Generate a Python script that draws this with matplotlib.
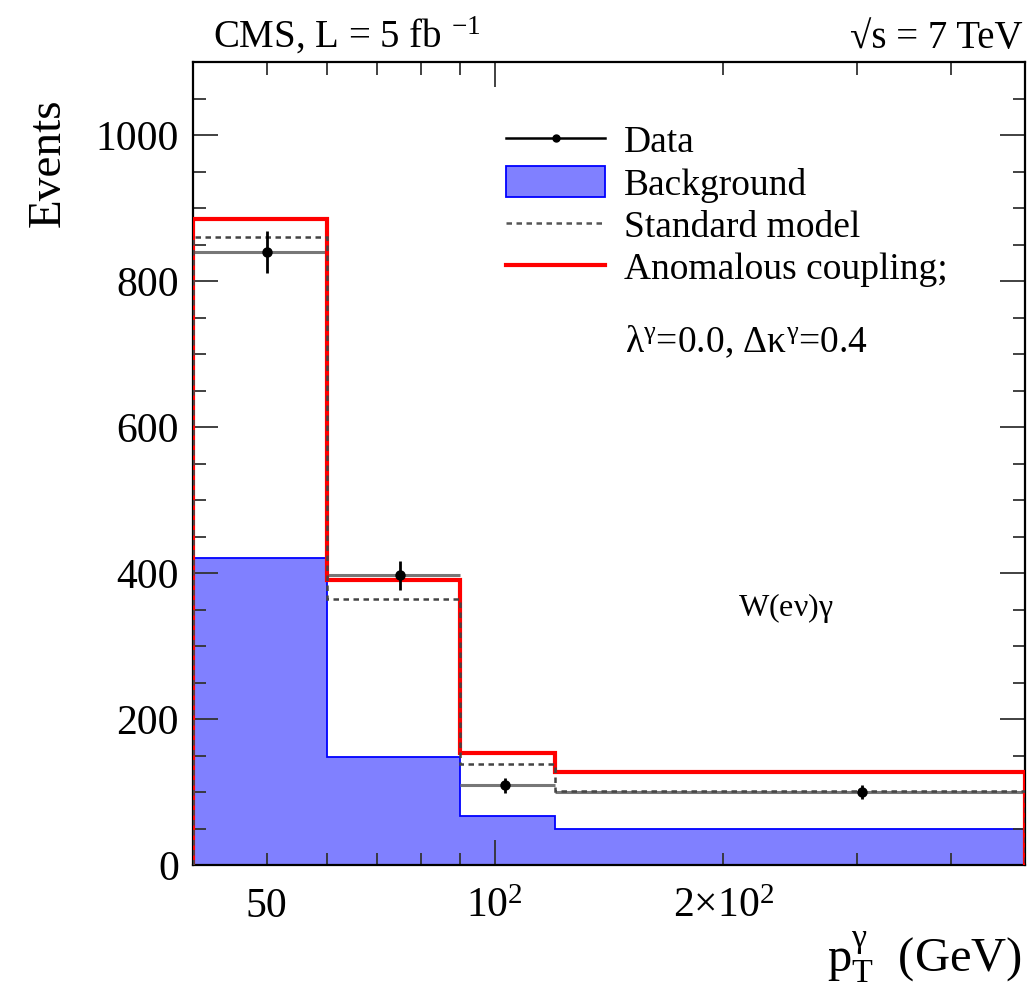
import matplotlib
matplotlib.use("Agg")
import matplotlib.pyplot as plt
from matplotlib.lines import Line2D
from matplotlib.patches import Patch
from matplotlib.ticker import FixedLocator, FixedFormatter, NullFormatter
import numpy as np

# Photon pT binning (GeV) and per-bin event yields
bin_edges = [40, 60, 90, 120, 500]
background = [420, 148, 67, 49]
standard_model = [860, 364, 138, 101]
anomalous_coupling = [885, 390, 153, 127]

data_pt = [50, 75, 103, 305]
data_events = [840, 397, 109, 100]
data_err = [29, 20, 10, 10]

x_major = [100]
x_minor = [50, 60, 70, 80, 90, 200, 300, 400]
x_minor_labels = ["50", "", "", "", "", r"$\mathregular{2{\times}10^{2}}$", "", ""]
y_major = [0, 200, 400, 600, 800, 1000]
y_minor = [50, 100, 150, 250, 300, 350, 450, 500, 550, 650, 700, 750, 850, 900, 950, 1050]

plt.rcParams["font.family"] = ["Liberation Serif", "DejaVu Serif"]
plt.rcParams["mathtext.fontset"] = "stix"

W, H = 1031, 1000
fig = plt.figure(figsize=(W / 100, H / 100), dpi=100)
ax = fig.add_axes([193 / W, 1 - 865 / H, (1025 - 193) / W, (865 - 62) / H])

ax.set_xscale("log")
ax.set_xlim(bin_edges[0], bin_edges[-1])
ax.set_ylim(0, 1100)

bg_color = "#8080ff"
ax.stairs(background, bin_edges, baseline=0, fill=True, color=bg_color, zorder=1)
ax.stairs(background, bin_edges, baseline=0, color="#0000ff", lw=1.3, zorder=1.5)

# data: horizontal bars over bin widths, vertical statistical errors
edges = np.array(bin_edges, dtype=float)
x = np.array(data_pt, dtype=float)
xerr = np.vstack([x - edges[:-1], edges[1:] - x])
ax.errorbar(x, data_events, xerr=xerr, fmt="none", ecolor="#777777", elinewidth=2.2, zorder=2)

ax.stairs(anomalous_coupling, bin_edges, baseline=0, color="#ff0000", lw=3.0, zorder=3)
ax.stairs(standard_model, bin_edges, baseline=0, color="#444444", lw=1.8,
          linestyle=(0, (2.2, 1.8)), zorder=4)

ax.errorbar(x, data_events, yerr=data_err, fmt="o", color="black", ms=6.5,
            elinewidth=2.0, capsize=0, zorder=5)

# axes styling
for s in ax.spines.values():
    s.set_linewidth(1.6)
ax.xaxis.set_major_locator(FixedLocator(x_major))
ax.xaxis.set_major_formatter(FixedFormatter([r"$\mathregular{10^{2}}$"]))
ax.xaxis.set_minor_locator(FixedLocator(x_minor))
ax.xaxis.set_minor_formatter(FixedFormatter(x_minor_labels))
ax.yaxis.set_major_locator(FixedLocator(y_major))
ax.yaxis.set_minor_locator(FixedLocator(y_minor))
ax.yaxis.set_minor_formatter(NullFormatter())

ax.tick_params(which="both", direction="in", top=True, right=True, labelsize=30,
               width=1.3, colors="#333333", labelcolor="black")
ax.tick_params(which="major", length=18)
ax.tick_params(which="minor", length=9)
ax.tick_params(axis="x", which="both", pad=16)
ax.tick_params(axis="y", which="both", pad=10)

fig.text(48 / W, 1 - 98 / H, "Events", rotation=90, fontsize=34, ha="center", va="top")
fig.text(1022 / W, 1 - 972 / H, r"$\mathregular{p_{T}^{\gamma}}$  (GeV)", fontsize=35,
         ha="right", va="baseline")

fig.text(213 / W, 1 - 48 / H, r"CMS, L = 5 fb $^{\mathregular{-1}}$", fontsize=28,
         ha="left", va="baseline")
fig.text(1022 / W, 1 - 48 / H, "\u221as = 7 TeV", fontsize=28,
         ha="right", va="baseline")

handles = [
    Line2D([], [], color="black", lw=1.8, marker="o", ms=5),
    Patch(facecolor=bg_color, edgecolor="#0000ff", lw=1.3),
    Line2D([], [], color="#555555", lw=1.8, linestyle=(0, (2.2, 1.8))),
    Line2D([], [], color="#ff0000", lw=3.0),
]
labels = ["Data", "Background", "Standard model", "Anomalous coupling;"]
fig.legend(handles, labels, loc="upper left", bbox_to_anchor=(506 / W, 1 - 124 / H),
           frameon=False, fontsize=27, handlelength=2.65, handleheight=0.9,
           handletextpad=0.5, labelspacing=0.15, borderpad=0, borderaxespad=0)

fig.text(625 / W, 1 - 352 / H,
         r"$\mathregular{\lambda^{\gamma}}$=0.0, $\mathregular{\Delta\kappa^{\gamma}}$=0.4",
         fontsize=27, ha="left", va="baseline")
fig.text(738 / W, 1 - 616 / H, r"W(e$\mathregular{\nu}$)$\mathregular{\gamma}$",
         fontsize=23, ha="left", va="baseline")

fig.savefig("out.png", dpi=100)
